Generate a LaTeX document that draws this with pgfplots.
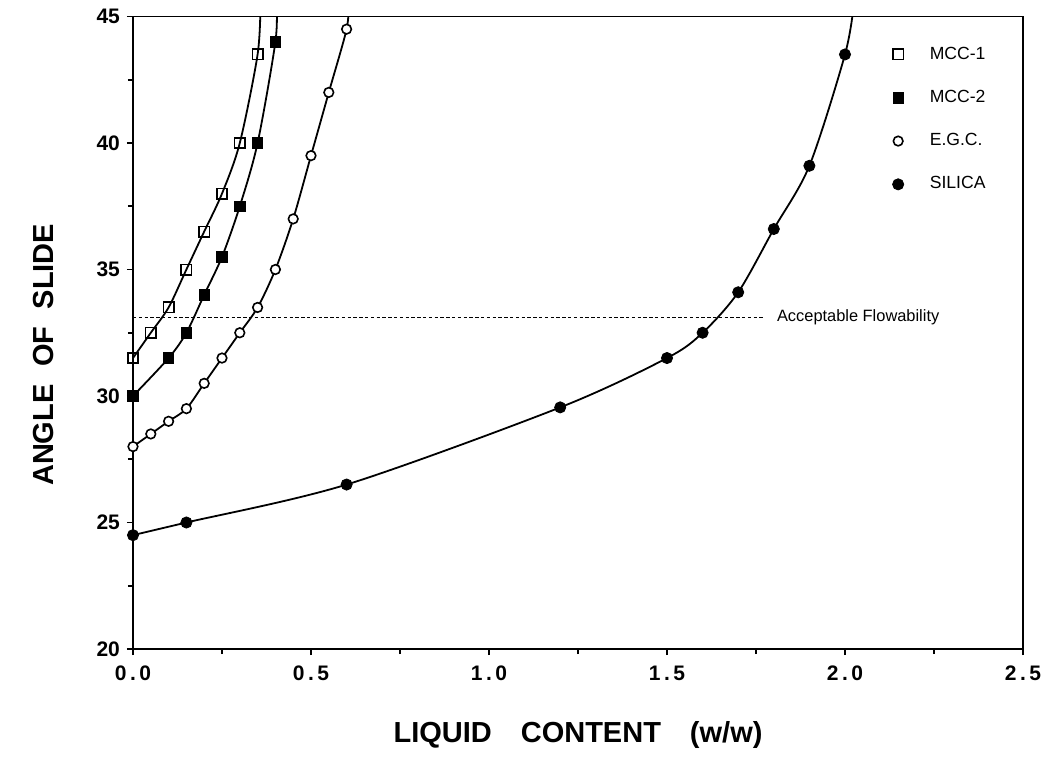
\documentclass[border=0pt]{standalone}
\usepackage{fontspec}
\setmainfont{Liberation Sans}
\usepackage{pgfplots}
\pgfplotsset{compat=1.18}

\begin{document}
\begin{tikzpicture}
\begin{axis}[
  name=ax, at={(0,0)}, anchor=south west,
  scale only axis, width=445pt, height=316.25pt,
  xmin=0, xmax=2.5, ymin=20, ymax=45,
  xtick={0,0.5,1,1.5,2,2.5},
  xticklabels={0\,.\,0,0\,.\,5,1\,.\,0,1\,.\,5,2\,.\,0,2\,.\,5},
  ytick={20,25,30,35,40,45},
  minor x tick num=1, minor y tick num=1,
  tick pos=left, tick align=outside,
  major tick length=3pt, minor tick length=2.5pt,
  axis line style={line width=0.9pt},
  every tick/.style={black, line width=0.8pt},
  /pgf/number format/assume math mode=true,
  tick label style={font=\bfseries\fontsize{10.5}{12}\selectfont},
  xticklabel style={yshift=-2pt, font=\bfseries\fontsize{10.5}{12}\selectfont\addfontfeatures{LetterSpace=8}},
  xlabel={LIQUID\quad CONTENT\quad (w/w)},
  ylabel={ANGLE\hspace{0.6em}OF\hspace{0.6em}SLIDE},
  label style={font=\bfseries\fontsize{14.5}{16}\selectfont},
  xlabel style={at={(axis description cs:0.5,-0.136)}, anchor=center},
  ylabel style={at={(axis description cs:-0.1,0.465)}, anchor=center},
  legend style={at={(axis description cs:0.853,0.959)}, anchor=north west,
    draw=none, fill=none, inner sep=0pt, row sep=10pt,
    font=\fontsize{8.8}{10}\selectfont, cells={anchor=west}},
  /tikz/every odd column/.append style={column sep=11pt},
  legend image code/.code={\draw plot coordinates {(0pt,0pt)};},
]
% fitted curves
\addplot[black, line width=0.9pt, smooth, forget plot] coordinates {
  (0,31.5) (0.05,32.5) (0.1,33.5) (0.15,35) (0.2,36.5) (0.25,38) (0.3,40) (0.35,43.5) (0.358,45.5)};
\addplot[black, line width=0.9pt, smooth, forget plot] coordinates {
  (0,30) (0.1,31.5) (0.15,32.5) (0.2,34) (0.25,35.5) (0.3,37.5) (0.35,40) (0.4,44) (0.403,45.5)};
\addplot[black, line width=0.9pt, smooth, forget plot] coordinates {
  (0,28) (0.05,28.5) (0.1,29) (0.15,29.5) (0.2,30.5) (0.25,31.5) (0.3,32.5) (0.35,33.5)
  (0.4,35) (0.45,37) (0.5,39.5) (0.55,42) (0.6,44.5) (0.605,45.5)};
\addplot[black, line width=0.9pt, smooth, forget plot] coordinates {
  (0,24.5) (0.15,25) (0.6,26.5) (1.2,29.55) (1.5,31.5) (1.6,32.5) (1.7,34.1) (1.8,36.6)
  (1.9,39.1) (2.0,43.5) (2.025,45.5)};
% acceptable flowability
\addplot[black, line width=0.7pt, dash pattern=on 1.7pt off 1.2pt, forget plot] coordinates {(0,33.1) (1.775,33.1)};
\node[anchor=west, font=\fontsize{8.2}{9}\selectfont, inner sep=0pt] at (axis cs:1.808,33.1) {Acceptable Flowability};
% data points
\addplot[only marks, mark=square, mark size=2.6pt, mark options={fill=white, draw=black, line width=0.8pt}] coordinates {
  (0,31.5) (0.05,32.5) (0.1,33.5) (0.15,35) (0.2,36.5) (0.25,38) (0.3,40) (0.35,43.5)};
\addplot[only marks, mark=square*, mark size=2.6pt, mark options={fill=black, draw=black}] coordinates {
  (0,30) (0.1,31.5) (0.15,32.5) (0.2,34) (0.25,35.5) (0.3,37.5) (0.35,40) (0.4,44)};
\addplot[only marks, mark=*, mark size=2.4pt, mark options={fill=white, draw=black, line width=0.8pt}] coordinates {
  (0,28) (0.05,28.5) (0.1,29) (0.15,29.5) (0.2,30.5) (0.25,31.5) (0.3,32.5) (0.35,33.5)
  (0.4,35) (0.45,37) (0.5,39.5) (0.55,42) (0.6,44.5)};
\addplot[only marks, mark=*, mark size=2.8pt, mark options={fill=black, draw=black}] coordinates {
  (0,24.5) (0.15,25) (0.6,26.5) (1.2,29.55) (1.5,31.5) (1.6,32.5) (1.7,34.1) (1.8,36.6)
  (1.9,39.1) (2.0,43.5)};
\legend{MCC-1, MCC-2, E.G.C., SILICA}
\end{axis}
\pgfresetboundingbox
\path ([shift={(-66.5pt,-54pt)}]ax.south west) rectangle ([shift={(454pt,324.5pt)}]ax.south west);
\end{tikzpicture}
\end{document}
